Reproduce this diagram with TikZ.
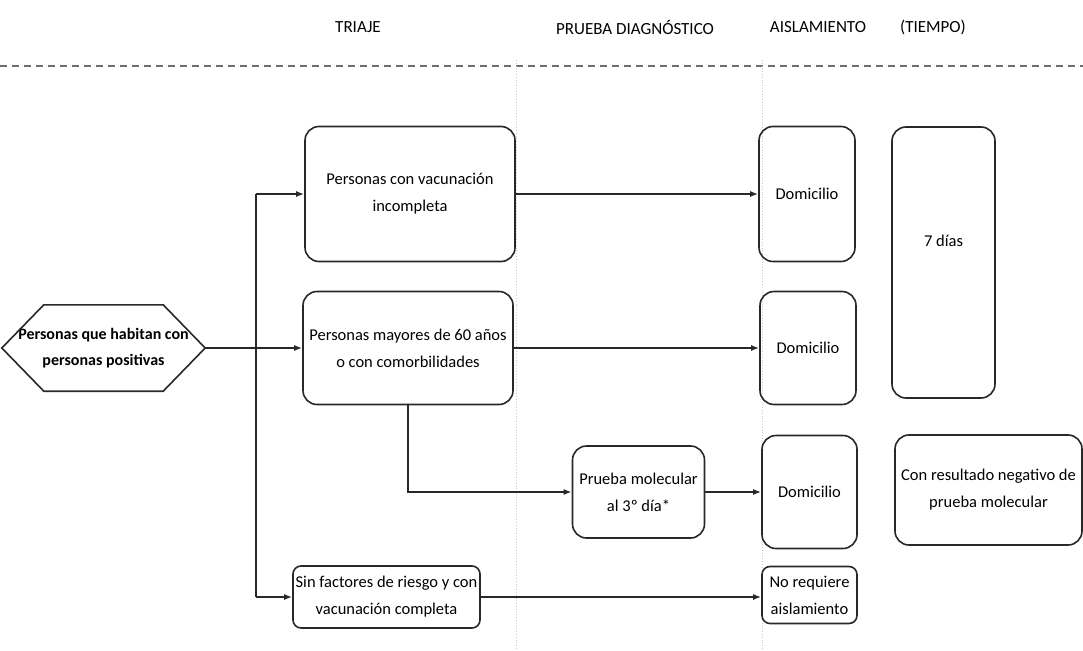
\documentclass[tikz,border=0pt]{standalone}
\usepackage{fontspec}
\setmainfont{Carlito}
\usetikzlibrary{arrows.meta}
\definecolor{boxline}{RGB}{40,40,40}
\definecolor{sepgray}{RGB}{200,200,200}
\definecolor{dashgray}{RGB}{110,110,110}

\tikzset{
  stagebox/.style={draw=boxline, line width=1.6pt, rounded corners=14pt, align=center,
    font=\fontsize{16.5}{27}\selectfont, inner sep=2pt},
  smallbox/.style={stagebox, rounded corners=8pt},
  flow/.style={draw=boxline, line width=1.5pt, -{Latex[length=8pt,width=6pt]}},
  header/.style={font=\fontsize{17}{19}\selectfont}
}

\begin{document}
\begin{tikzpicture}[x=1pt,y=-1pt]
\useasboundingbox (0,0) rectangle (1083,650);

% Column headers
\node[header] (hTriaje) at (358,27) {TRIAJE};
\node[header] (hPrueba) at (635,27) {PRUEBA DIAGNÓSTICO};
\node[header] (hAisl) at (818,27) {AISLAMIENTO};
\node[header] (hTiempo) at (933,27) {(TIEMPO)};

% Separators
\draw[dashgray, line width=1.6pt, dash pattern=on 7pt off 5pt] (0,66) -- (1083,66);
\draw[sepgray, line width=0.8pt, dotted] (516,60) -- (516,650);
\draw[sepgray, line width=0.8pt, dotted] (762,60) -- (762,650);

% Start
\node[minimum width=203pt, minimum height=86pt, inner sep=0pt, align=center,
  font=\fontsize{16}{26}\selectfont\bfseries] (hex) at (103.5,348)
  {Personas que habitan con\\personas positivas};
\draw[boxline, line width=1.6pt] (hex.west) -- ([xshift=42pt]hex.north west)
  -- ([xshift=-42pt]hex.north east) -- (hex.east)
  -- ([xshift=-42pt]hex.south east) -- ([xshift=42pt]hex.south west) -- cycle;

% Triage
\node[stagebox, minimum width=210pt, minimum height=135pt] (incompleta) at (410,194)
  {Personas con vacunación\\incompleta};
\node[stagebox, minimum width=210pt, minimum height=113pt] (mayores) at (408,348)
  {Personas mayores de 60 años\\o con comorbilidades};
\node[smallbox, minimum width=187pt, minimum height=62pt] (sinriesgo) at (386.5,597)
  {Sin factores de riesgo y con\\vacunación completa};

% Test
\node[stagebox, minimum width=132pt, minimum height=92pt] (molecular) at (638.5,492)
  {Prueba molecular\\al 3º día*};

% Isolation
\node[stagebox, minimum width=96pt, minimum height=135pt] (dom1) at (807,194) {Domicilio};
\node[stagebox, minimum width=96pt, minimum height=113pt] (dom2) at (808,348) {Domicilio};
\node[stagebox, minimum width=95pt, minimum height=113pt] (dom3) at (809.5,492) {Domicilio};
\node[smallbox, minimum width=95pt, minimum height=57pt] (noreq) at (809.5,595)
  {No requiere\\aislamiento};

% Time
\node[stagebox, minimum width=103pt, minimum height=271pt] (dias) at (943.5,262.5)
  {\raisebox{22pt}[\height][\depth]{7 días}};
\node[stagebox, minimum width=187pt, minimum height=110pt] (negativo) at (988.5,490)
  {Con resultado negativo de\\prueba molecular};

% Connectors
\coordinate (trunkTop) at (256,194);
\coordinate (trunkBot) at (256,597);
\draw[boxline, line width=1.5pt] (trunkTop) -- (trunkBot);
\draw[flow] (hex.east) -- (mayores.west);
\draw[flow] (trunkTop) -- (incompleta.west);
\draw[flow] (trunkBot) -- (sinriesgo.west);
\draw[flow] (incompleta.east) -- (dom1.west);
\draw[flow] (mayores.east) -- (dom2.west);
\draw[flow] (mayores.south) |- (molecular.west);
\draw[flow] (molecular.east) -- (dom3.west);
\draw[flow] (sinriesgo.east) -- (sinriesgo.east -| noreq.west);
\end{tikzpicture}
\end{document}
